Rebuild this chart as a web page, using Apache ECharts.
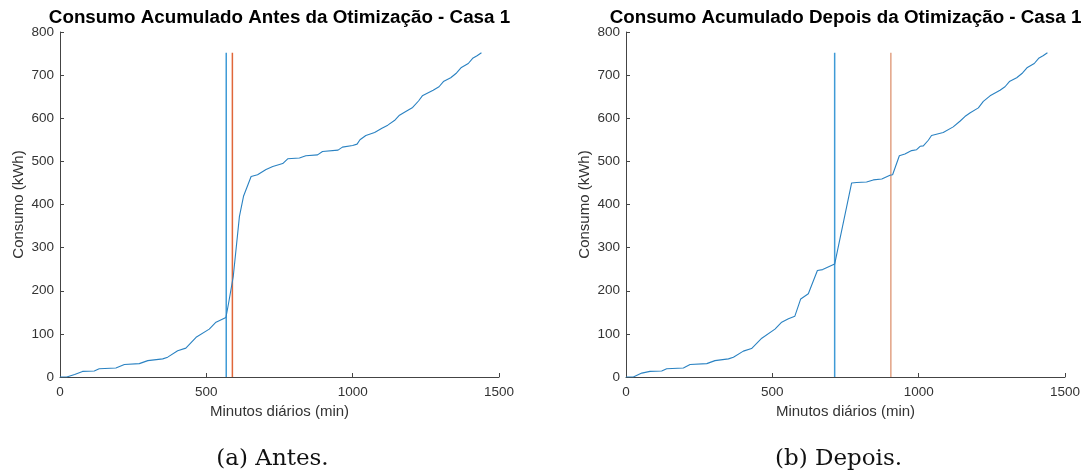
<!DOCTYPE html>
<html>
<head>
<meta charset="utf-8">
<script src="https://cdn.jsdelivr.net/npm/echarts@6/dist/echarts.min.js"></script>
<style>
html,body{margin:0;padding:0;background:#fff;}
#chart{width:1083px;height:470px;}
</style>
</head>
<body>
<div id="chart"></div>
<script>
// ---- Data ----
const titles = ['Consumo Acumulado Antes da Otimização - Casa 1', 'Consumo Acumulado Depois da Otimização - Casa 1'];
const captions = ['(a) Antes.', '(b) Depois.'];
const xAxisName = 'Minutos diários (min)';
const yAxisName = 'Consumo (kWh)';

const minutesA = [0,23,50,77,117,134,191,220,271,300,351,368,402,430,465,510,533,567,576,592,613,627,653,675,704,727,761,778,818,840,880,897,950,965,1000,1015,1025,1045,1075,1100,1120,1145,1160,1180,1205,1225,1238,1275,1295,1310,1335,1355,1370,1395,1410,1425,1440];
const consumoA = [0,0,6,13,14,19,21,29,31,38,42,46,61,67,92,111,127,138,171,233,372,419,465,469,481,488,495,506,508,513,515,523,526,533,537,540,550,560,567,577,584,596,607,615,625,640,652,665,673,685,694,705,717,727,739,745,752];

const minutesB = [0,25,54,82,122,139,196,219,276,304,350,367,401,429,464,509,532,555,577,597,623,654,672,713,771,788,822,845,874,902,911,934,953,976,993,1005,1016,1033,1044,1084,1118,1141,1158,1175,1204,1221,1244,1278,1295,1310,1335,1355,1370,1395,1410,1425,1440];
const consumoB = [0,0,9,13,14,19,21,29,31,38,42,46,60,66,90,111,127,135,141,181,193,247,249,262,450,451,452,457,459,468,469,513,517,525,527,535,536,549,560,567,580,593,604,612,624,639,652,665,673,685,694,705,717,727,739,745,752];

// vertical markers [blue, red] (minutes)
const markersA = [568, 589];
const markersB = [713, 905];
const markerTop = 752;

const xTicks = {min: 0, max: 1500, interval: 500};
const yTicks = {min: 0, max: 800, interval: 100};

// ---- Build ----
const axisColor = '#444';
const labelColor = '#333';
const gridDefs = [
  {left: 60, top: 32, width: 439, height: 345},
  {left: 626, top: 32, width: 439, height: 345}
];

function zip(xs, ys){ return xs.map((x,i)=>[x, ys[i]]); }
const plain = v => String(v);

const xAxes = gridDefs.map((g,i)=>({
  gridIndex: i, type: 'value', min: xTicks.min, max: xTicks.max, interval: xTicks.interval,
  name: xAxisName, nameLocation: 'middle', nameGap: 27,
  nameTextStyle: {fontFamily: 'Liberation Sans, Arial', fontSize: 15, color: labelColor},
  axisLine: {show: true, onZero: false, lineStyle: {color: axisColor, width: 1}},
  axisTick: {show: true, inside: true, length: 4, lineStyle: {color: axisColor}},
  axisLabel: {fontFamily: 'Liberation Sans, Arial', fontSize: 13.5, color: labelColor, margin: 8, formatter: plain},
  splitLine: {show: false}
}));
const yAxes = gridDefs.map((g,i)=>({
  gridIndex: i, type: 'value', min: yTicks.min, max: yTicks.max, interval: yTicks.interval,
  name: yAxisName, nameLocation: 'middle', nameGap: 34, nameRotate: 90,
  nameTextStyle: {fontFamily: 'Liberation Sans, Arial', fontSize: 15, color: labelColor},
  axisLine: {show: true, lineStyle: {color: axisColor, width: 1}},
  axisTick: {show: true, inside: true, length: 4, lineStyle: {color: axisColor}},
  axisLabel: {fontFamily: 'Liberation Sans, Arial', fontSize: 13.5, color: labelColor, margin: 6, formatter: plain},
  splitLine: {show: false}
}));

const series = [];
[[minutesA, consumoA, markersA], [minutesB, consumoB, markersB]].forEach((d, i)=>{
  series.push({type: 'line', xAxisIndex: i, yAxisIndex: i, data: zip(d[0], d[1]),
    showSymbol: false, symbol: 'none', lineStyle: {color: '#2a82c2', width: 1.1}, z: 3, silent: true});
  series.push({type: 'line', xAxisIndex: i, yAxisIndex: i, data: [[d[2][0], 0], [d[2][0], markerTop]],
    showSymbol: false, symbol: 'none', lineStyle: {color: '#3e9ad6', width: 1.5}, z: 2, silent: true});
  series.push({type: 'line', xAxisIndex: i, yAxisIndex: i, data: [[d[2][1], 0], [d[2][1], markerTop]],
    showSymbol: false, symbol: 'none', lineStyle: {color: i === 0 ? '#e0673a' : '#e2a284', width: 1.5}, z: 2, silent: true});
});

const graphics = [];
gridDefs.forEach((g,i)=>{
  graphics.push({type: 'text', x: g.left + g.width/2, y: 18, style: {
    text: titles[i], fontFamily: 'Liberation Sans, Arial', fontWeight: 'bold', fontSize: 18.8,
    fill: '#000', textAlign: 'center', textVerticalAlign: 'middle'}});
  graphics.push({type: 'text', x: g.left + g.width/2 - 7, y: 459, style: {
    text: captions[i], fontFamily: 'DejaVu Serif', fontSize: 23,
    fill: '#111', textAlign: 'center', textVerticalAlign: 'middle'}});
});

const chart = echarts.init(document.getElementById('chart'), null, {renderer: 'canvas'});
chart.setOption({
  animation: false,
  backgroundColor: '#fff',
  grid: gridDefs.map(g=>Object.assign({containLabel: false}, g)),
  xAxis: xAxes,
  yAxis: yAxes,
  series: series,
  graphic: graphics
});
</script>
</body>
</html>
